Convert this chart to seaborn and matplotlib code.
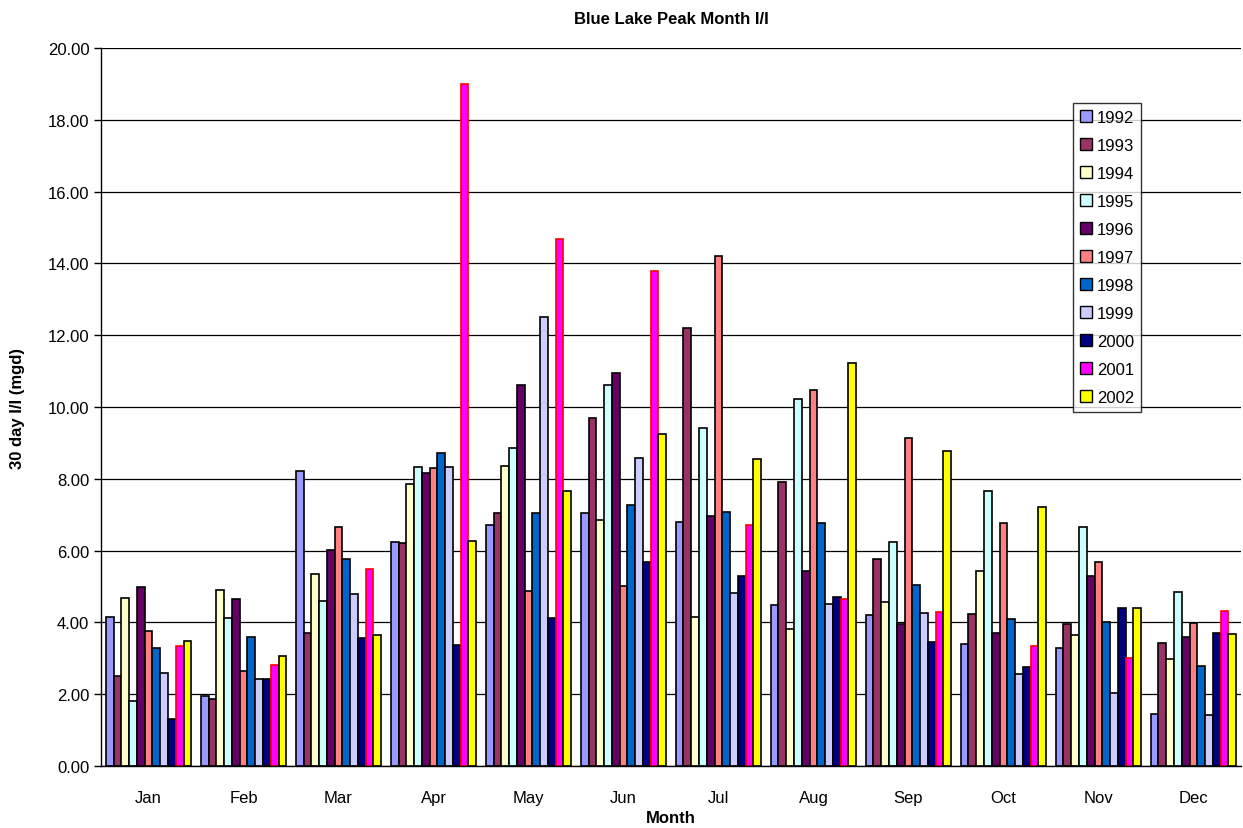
import matplotlib
matplotlib.use("Agg")

import pandas as pd
import matplotlib.pyplot as plt
import seaborn as sns
from matplotlib.ticker import FormatStrFormatter, MultipleLocator

# ----------------------------------------------------
# Data
# ----------------------------------------------------
months = ["Jan", "Feb", "Mar", "Apr", "May", "Jun",
          "Jul", "Aug", "Sep", "Oct", "Nov", "Dec"]
years = ["1992", "1993", "1994", "1995", "1996", "1997",
         "1998", "1999", "2000", "2001", "2002"]

y1992 = [4.16, 1.96, 8.23, 6.24, 6.70, 7.04, 6.79, 4.48, 4.21, 3.40, 3.30, 1.44]
y1993 = [2.52, 1.86, 3.70, 6.20, 7.05, 9.70, 12.19, 7.92, 5.76, 4.23, 3.96, 3.43]
y1994 = [4.68, 4.91, 5.36, 7.86, 8.36, 6.86, 4.16, 3.81, 4.57, 5.42, 3.66, 2.98]
y1995 = [1.80, 4.13, 4.61, 8.32, 8.87, 10.61, 9.42, 10.21, 6.25, 7.66, 6.65, 4.85]
y1996 = [4.98, 4.66, 6.01, 8.15, 10.61, 10.96, 6.96, 5.42, 3.95, 3.71, 5.30, 3.60]
y1997 = [3.76, 2.64, 6.67, 8.30, 4.88, 5.02, 14.21, 10.48, 9.14, 6.76, 5.67, 3.99]
y1998 = [3.29, 3.60, 5.76, 8.72, 7.04, 7.26, 7.08, 6.77, 5.04, 4.09, 4.02, 2.79]
y1999 = [2.58, 2.43, 4.79, 8.32, 12.50, 8.59, 4.81, 4.51, 4.25, 2.56, 2.04, 1.43]
y2000 = [1.31, 2.42, 3.57, 3.36, 4.12, 5.67, 5.29, 4.72, 3.46, 2.75, 4.41, 3.70]
y2001 = [3.35, 2.82, 5.49, 19.01, 14.68, 13.79, 6.72, 4.65, 4.28, 3.34, 3.02, 4.31]
y2002 = [3.48, 3.06, 3.66, 6.28, 7.66, 9.25, 8.56, 11.22, 8.77, 7.21, 4.41, 3.68]

series = [y1992, y1993, y1994, y1995, y1996, y1997,
          y1998, y1999, y2000, y2001, y2002]

colors = ["#9999FF", "#993366", "#FFFFCC", "#CCFFFF", "#660066", "#FF8080",
          "#0066CC", "#CCCCFF", "#000080", "#FF00FF", "#FFFF00"]

rows = []
for yr, vals in zip(years, series):
    for m, v in zip(months, vals):
        rows.append({"Month": m, "Year": yr, "Value": v})
df = pd.DataFrame(rows)

# ----------------------------------------------------
# Plot
# ----------------------------------------------------
sns.set_style("white")
plt.rcParams["font.family"] = ["Liberation Sans", "DejaVu Sans"]
plt.rcParams["text.color"] = "black"
plt.rcParams["axes.labelcolor"] = "black"
plt.rcParams["xtick.color"] = "black"
plt.rcParams["ytick.color"] = "black"

fig = plt.figure(figsize=(12.43, 8.29), dpi=100)
ax = fig.add_axes([0.0813, 0.0748, 0.917, 0.866])

sns.barplot(
    data=df, x="Month", y="Value", hue="Year",
    order=months, hue_order=years, palette=colors,
    width=0.9, gap=0, edgecolor="black", linewidth=1.2,
    saturation=1, ax=ax, legend=True,
)

# 2001 bars have a red outline
for bar in ax.containers[years.index("2001")]:
    bar.set_edgecolor("red")

ax.set_ylim(0, 20)
ax.set_xlim(-0.5, 11.5)
ax.yaxis.set_major_locator(MultipleLocator(2))
ax.yaxis.set_major_formatter(FormatStrFormatter("%.2f"))
ax.grid(axis="y", color="black", linewidth=0.9)
ax.set_axisbelow(True)

for s in ["top", "right"]:
    ax.spines[s].set_visible(False)
for s in ["left", "bottom"]:
    ax.spines[s].set_color("black")
    ax.spines[s].set_linewidth(1.0)

# category tick marks between groups
ax.set_xticks([i - 0.5 for i in range(13)], minor=True)
ax.tick_params(axis="x", which="minor", length=6, color="black", width=1, direction="out")
ax.tick_params(axis="x", which="major", length=0, labelsize=12, pad=17)
ax.tick_params(axis="y", length=5, color="black", width=1, labelsize=12, left=True)

ax.set_title("Blue Lake Peak Month I/I", fontsize=12, fontweight="bold", pad=18)
ax.set_xlabel("Month", fontsize=12, fontweight="bold", labelpad=4)
ax.set_ylabel("30 day I/I (mgd)", fontsize=12, fontweight="bold", labelpad=16)

leg = ax.legend(
    title=None, loc="upper left", bbox_to_anchor=(0.8635, 0.874),
    bbox_transform=fig.transFigure, borderaxespad=0, fontsize=12, frameon=True,
    fancybox=False, edgecolor="black", handlelength=0.7, handleheight=0.7,
    handletextpad=0.3, labelspacing=0.78, borderpad=0.4,
)
leg.get_frame().set_linewidth(1.0)
for h in leg.legend_handles:
    h.set_linewidth(1.0)

fig.savefig("out.png", dpi=100, facecolor="white")
